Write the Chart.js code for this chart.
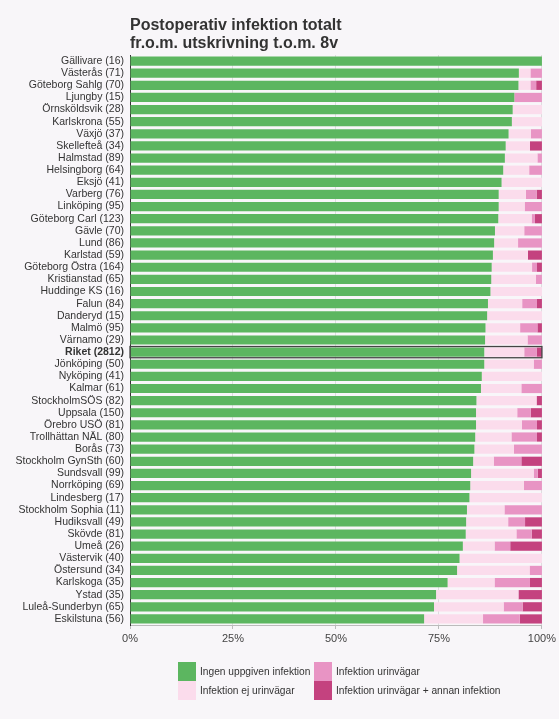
<!DOCTYPE html>
<html>
<head>
<meta charset="utf-8">
<script src="https://cdn.jsdelivr.net/npm/chart.js@4/dist/chart.umd.min.js"></script>
<style>
  html, body { margin: 0; padding: 0; background: #f8f6f9; }
  #wrap { position: relative; width: 559px; height: 719px; font-family: "Liberation Sans", Arial, sans-serif; }
  canvas { position: absolute; left: 0; top: 0; }
  .lg { position: absolute; display: flex; align-items: center; font-size: 10.2px; color: #333; height: 19px; white-space: nowrap; }
  .lg span.b { display: inline-block; width: 18px; height: 19px; margin-right: 4px; }
</style>
</head>
<body>
<div id="wrap">
  <canvas id="c" width="559" height="719"></canvas>
  <div id="legend"></div>
</div>
<script>
const titleLines = ["Postoperativ infektion totalt", "fr.o.m. utskrivning t.o.m. 8v"];
const categories = ["Gällivare (16)","Västerås (71)","Göteborg Sahlg (70)","Ljungby (15)","Örnsköldsvik (28)","Karlskrona (55)","Växjö (37)","Skellefteå (34)","Halmstad (89)","Helsingborg (64)","Eksjö (41)","Varberg (76)","Linköping (95)","Göteborg Carl (123)","Gävle (70)","Lund (86)","Karlstad (59)","Göteborg Östra (164)","Kristianstad (65)","Huddinge KS (16)","Falun (84)","Danderyd (15)","Malmö (95)","Värnamo (29)","Riket (2812)","Jönköping (50)","Nyköping (41)","Kalmar (61)","StockholmSÖS (82)","Uppsala (150)","Örebro USÖ (81)","Trollhättan NÄL (80)","Borås (73)","Stockholm GynSth (60)","Sundsvall (99)","Norrköping (69)","Lindesberg (17)","Stockholm Sophia (11)","Hudiksvall (49)","Skövde (81)","Umeå (26)","Västervik (40)","Östersund (34)","Karlskoga (35)","Ystad (35)","Luleå-Sunderbyn (65)","Eskilstuna (56)"];
const ingen      = [100,94.4,94.3,93.3,92.9,92.7,91.9,91.2,91.0,90.6,90.2,89.5,89.5,89.4,88.6,88.4,88.1,87.8,87.7,87.5,86.9,86.7,86.3,86.2,86.0,86.0,85.4,85.2,84.1,84.0,84.0,83.8,83.6,83.3,82.8,82.6,82.4,81.8,81.6,81.5,80.8,80.0,79.4,77.1,74.3,73.8,71.4];
const ejUrin     = [0,2.8,2.9,0,7.1,7.3,5.4,5.9,7.9,6.3,9.8,6.6,6.3,8.1,7.1,5.8,8.5,9.8,10.8,12.5,8.3,13.3,8.4,10.3,9.7,12.0,14.6,9.8,14.6,10.0,11.1,8.8,9.6,5.0,15.2,13.0,17.6,9.1,10.2,12.3,7.7,20.0,17.6,11.4,20.0,16.9,14.3];
const urin       = [0,2.8,1.4,6.7,0,0,2.7,0,1.1,3.1,0,2.6,4.2,0.8,4.3,5.8,0,1.2,1.5,0,3.6,0,4.2,3.5,3.0,2.0,0,5.0,0,3.3,3.7,6.2,6.8,6.7,1.0,4.4,0,9.1,4.1,3.7,3.8,0,3.0,8.6,0,4.6,8.9];
const urinAnnan  = [0,0,1.4,0,0,0,0,2.9,0,0,0,1.3,0,1.7,0,0,3.4,1.2,0,0,1.2,0,1.1,0,1.3,0,0,0,1.3,2.7,1.2,1.2,0,5.0,1.0,0,0,0,4.1,2.5,7.7,0,0,2.9,5.7,4.7,5.4];
const seriesNames = ["Ingen uppgiven infektion","Infektion ej urinvägar","Infektion urinvägar","Infektion urinvägar + annan infektion"];
const xTicks = [0,25,50,75,100];
const RIKET = categories.indexOf("Riket (2812)");

const colors = ["#5cb660", "#fbdcec", "#e894c4", "#c4427f"];
const seriesData = [ingen, ejUrin, urin, urinAnnan];
const FONT = '"Liberation Sans", Arial, sans-serif';

const riketOutline = {
  id: 'riketOutline',
  afterDatasetsDraw(chart) {
    const x = chart.scales.x, y = chart.scales.y;
    const ctx = chart.ctx;
    const bar = chart.getDatasetMeta(0).data[RIKET];
    const h = bar.height;
    const yc = y.getPixelForValue(RIKET);
    ctx.save();
    ctx.strokeStyle = '#444';
    ctx.lineWidth = 1.3;
    ctx.strokeRect(x.getPixelForValue(0), yc - h/2 - 1, x.getPixelForValue(100) - x.getPixelForValue(0), h + 2);
    ctx.restore();
  }
};
const titlePlugin = {
  id: 'leftTitle',
  afterDraw(chart) {
    const ctx = chart.ctx;
    ctx.save();
    ctx.fillStyle = '#333';
    ctx.font = 'bold 16px ' + FONT;
    ctx.textBaseline = 'alphabetic';
    ctx.fillText(titleLines[0], chart.chartArea.left, 30);
    ctx.fillText(titleLines[1], chart.chartArea.left, 48);
    ctx.restore();
  }
};

new Chart(document.getElementById('c'), {
  type: 'bar',
  data: {
    labels: categories,
    datasets: seriesData.map((d, i) => ({
      label: seriesNames[i],
      data: d,
      backgroundColor: colors[i],
      borderWidth: 0,
      barPercentage: 0.76,
      categoryPercentage: 1.0
    }))
  },
  options: {
    indexAxis: 'y',
    responsive: false,
    animation: false,
    layout: { padding: { top: 55, right: 16, bottom: 69, left: 0 } },
    plugins: { legend: { display: false }, tooltip: { enabled: false }, title: { display: false } },
    scales: {
      x: {
        stacked: true, min: 0, max: 100,
        afterBuildTicks: (s) => { s.ticks = xTicks.map(v => ({ value: v })); },
        afterFit: (s) => { s.height = 25; },
        z: 1,
        grid: { color: 'rgba(0,0,0,0.10)', drawTicks: true, tickLength: 4, tickColor: '#bbb' },
        border: { display: true, color: '#bbb' },
        ticks: { color: '#444', font: { size: 11, family: FONT }, padding: 3, callback: v => v + '%' }
      },
      y: {
        stacked: true,
        afterFit: (s) => { s.width = 130; },
        grid: { display: false, drawTicks: false },
        border: { display: true, color: '#333', width: 1 },
        ticks: {
          autoSkip: false, color: '#333', padding: 6,
          font: (ctx) => ({ size: 10.5, family: FONT, weight: ctx.index === RIKET ? 'bold' : 'normal' })
        }
      }
    }
  },
  plugins: [riketOutline, titlePlugin]
});

// HTML legend (column-major 2x2)
const legend = document.getElementById('legend');
const pos = [[178, 662], [178, 681], [314, 662], [314, 681]];
[0, 1, 2, 3].forEach((si, k) => {
  const d = document.createElement('div');
  d.className = 'lg';
  d.style.left = pos[k][0] + 'px';
  d.style.top = pos[k][1] + 'px';
  d.innerHTML = '<span class="b" style="background:' + colors[si] + '"></span>' + seriesNames[si];
  legend.appendChild(d);
});
</script>
</body>
</html>
